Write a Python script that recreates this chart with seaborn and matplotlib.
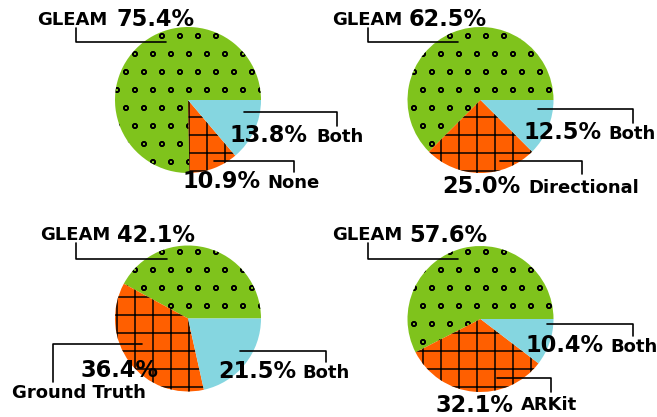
import matplotlib
matplotlib.use("Agg")
import matplotlib.pyplot as plt
import matplotlib.hatch
import seaborn as sns

# Share of preferences per comparison (GLEAM vs. alternative vs. both)
categories = [
    ["GLEAM", "None", "Both"],
    ["GLEAM", "Directional", "Both"],
    ["GLEAM", "Ground Truth", "Both"],
    ["GLEAM", "ARKit", "Both"],
]
shares = [
    [75.4, 10.9, 13.8],
    [62.5, 25.0, 12.5],
    [42.1, 36.4, 21.5],
    [57.6, 32.1, 10.4],
]

palette = ["#7fc31c", "#ff5f00", "#85d6e0"]
hatches = ["o", "+", ""]

sns.set_theme(style="white")
plt.rcParams["font.family"] = ["DejaVu Sans"]
plt.rcParams["hatch.linewidth"] = 1.0
# smaller rings for the 'o' hatch
matplotlib.hatch.SmallCircles.size = 0.12

DPI = 108
W, H = 657, 417
R = 73  # pie radius in pixels
centres = [(188, 100), (480.5, 100), (188, 318.5), (480.5, 319)]

# Label layout in pie-radius units, one entry per wedge:
# (percent text, name text, leader start at the label, leader end inside the wedge)
layouts = [
    [((-0.986, 1.014), (-2.064, 1.027), (-1.534, 0.986), (-0.305, 0.795)),
     ((-0.082, -1.205), (1.082, -1.205), (1.452, -0.982), (0.356, -0.832)),
     ((0.575, -0.582), (1.753, -0.582), (2.041, -0.356), (0.767, -0.171))],
    [((-0.979, 1.014), (-2.038, 1.027), (-1.545, 0.986), (-0.312, 0.790)),
     ((-0.518, -1.278), (0.655, -1.278), (1.395, -1.014), (0.267, -0.836)),
     ((0.586, -0.538), (1.747, -0.538), (2.089, -0.319), (0.792, -0.127))],
    [((-0.968, 1.052), (-2.027, 1.075), (-1.534, 1.030), (-0.292, 0.811)),
     ((-1.479, -0.797), (-2.407, -1.093), (-1.845, -0.866), (-0.634, -0.356)),
     ((0.415, -0.815), (1.571, -0.815), (1.890, -0.592), (0.712, -0.441))],
    [((-0.979, 1.059), (-2.038, 1.082), (-1.545, 1.037), (-0.312, 0.818)),
     ((-0.623, -1.270), (0.553, -1.240), (0.962, -0.996), (0.222, -0.804)),
     ((0.623, -0.448), (1.774, -0.448), (2.093, -0.233), (0.915, -0.073))],
]

fig = plt.figure(figsize=(W / DPI, H / DPI), dpi=DPI)
fig.patch.set_facecolor("white")

for names, vals, (cx, cy), layout in zip(categories, shares, centres, layouts):
    ax = fig.add_axes([(cx - R) / W, (H - cy - R) / H, 2 * R / W, 2 * R / H])
    wedges, _ = ax.pie(vals, colors=palette, startangle=0, counterclock=True,
                       radius=1.0,
                       wedgeprops=dict(edgecolor="black", linewidth=0))
    for w, h in zip(wedges, hatches):
        w.set_hatch(h)
    ax.set_xlim(-1, 1)
    ax.set_ylim(-1, 1)
    ax.set_axis_off()

    for name, v, (pct_pos, name_pos, lead, tip) in zip(names, vals, layout):
        ax.annotate("", xy=tip, xytext=lead, annotation_clip=False,
                    arrowprops=dict(arrowstyle="-", color="black", lw=1.1,
                                    shrinkA=0, shrinkB=0,
                                    connectionstyle="angle,angleA=90,angleB=0,rad=0"))
        ax.text(*pct_pos, f"{v:.1f}%", fontsize=15, fontweight="bold",
                ha="left", va="baseline", color="black")
        ax.text(*name_pos, name, fontsize=12, fontweight="bold",
                ha="left", va="baseline", color="black")

fig.savefig("out.png", dpi=DPI, facecolor="white")
